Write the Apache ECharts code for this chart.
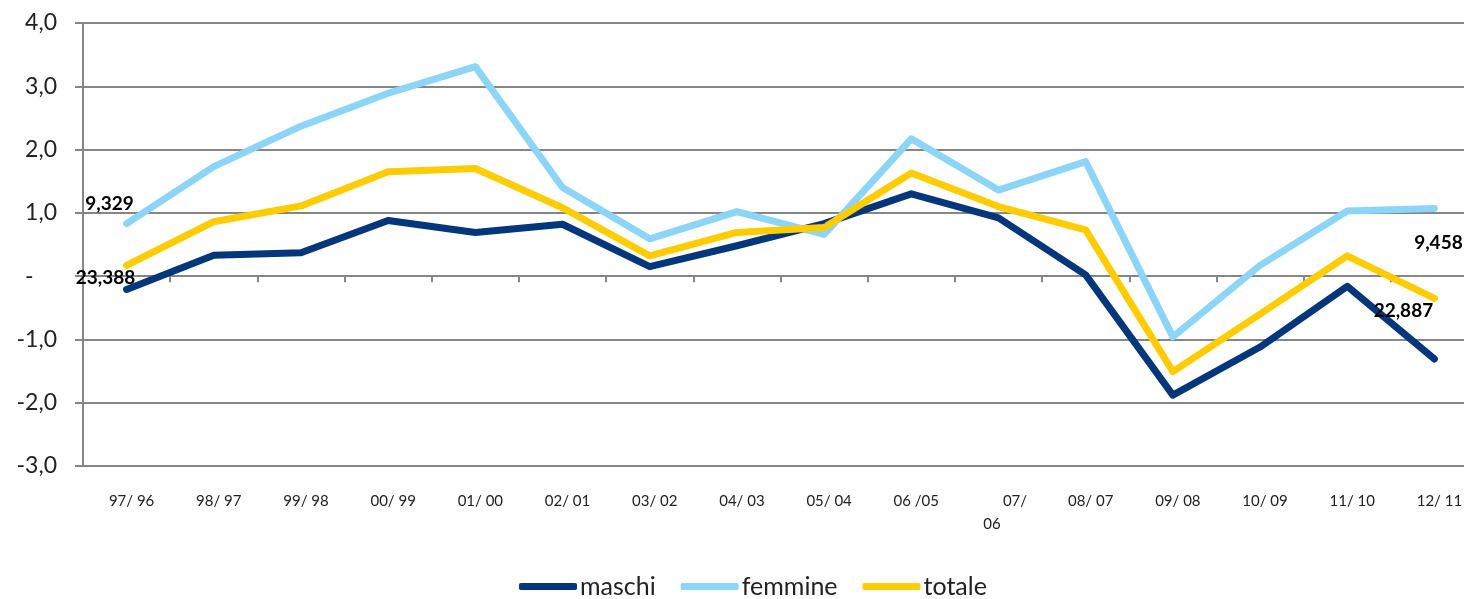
<!DOCTYPE html>
<html>
<head>
<meta charset="utf-8">
<script src="https://cdn.jsdelivr.net/npm/echarts@6/dist/echarts.min.js"></script>
<style>html,body{margin:0;padding:0;background:#fff}#c{width:1464px;height:599px}</style>
</head>
<body>
<div id="c"></div>
<script>
const categories = ['97/ 96','98/ 97','99/ 98','00/ 99','01/ 00','02/ 01','03/ 02','04/ 03','05/ 04','06 /05','      07/\n06      ','08/ 07','09/ 08','10/ 09','11/ 10','12/ 11'];
const maschi   = [-0.21, 0.33, 0.37, 0.88, 0.69, 0.82, 0.15, 0.48, 0.83, 1.30, 0.92, 0.02, -1.88, -1.12, -0.16, -1.31];
const femmine  = [0.83, 1.73, 2.37, 2.89, 3.31, 1.40, 0.59, 1.02, 0.66, 2.17, 1.36, 1.81, -0.96, 0.17, 1.03, 1.07];
const totale   = [0.17, 0.86, 1.11, 1.65, 1.70, 1.08, 0.32, 0.69, 0.77, 1.63, 1.10, 0.73, -1.51, -0.60, 0.32, -0.35];
const yTicks = { min: -3, max: 4, interval: 1 };
// absolute-number annotations shown on individual points
const notes = [
  { series: 'femmine', index: 0,  text: '9,329' },
  { series: 'maschi',  index: 0,  text: '23,388' },
  { series: 'femmine', index: 15, text: '9,458' },
  { series: 'totale',  index: 15, text: '22,887' }
];
const noteStyle = {
  'femmine-0':  { position: 'top', offset: [-17, -5] },
  'maschi-0':   { position: 'top', offset: [-21, 3] },
  'femmine-15': { position: 'bottom', offset: [4, 19] },
  'totale-15':  { position: 'bottom', offset: [-31, -2] }
};

function buildData(name, values) {
  return values.map((v, i) => {
    const n = notes.find(o => o.series === name && o.index === i);
    if (!n) return v;
    const st = noteStyle[name + '-' + i];
    return {
      value: v,
      label: {
        show: true, formatter: n.text, position: st.position, offset: st.offset,
        color: '#000', fontFamily: 'Lato', fontWeight: 'bold', fontSize: 19
      }
    };
  });
}

const colors = { maschi: '#03367A', femmine: '#8DD5F6', totale: '#FFCC00' };
function mkSeries(name, values) {
  return {
    name, type: 'line', data: buildData(name, values),
    xAxisIndex: 0, yAxisIndex: 0,
    symbol: 'circle', symbolSize: 1, showSymbol: true,
    lineStyle: { width: 7, color: colors[name], cap: 'round', join: 'round' },
    itemStyle: { color: colors[name] },
    label: { show: false },
    emphasis: { disabled: true },
    animation: false, z: 3
  };
}

const chart = echarts.init(document.getElementById('c'), null, { renderer: 'canvas' });
chart.setOption({
  animation: false,
  backgroundColor: '#fff',
  textStyle: { fontFamily: 'Lato' },
  grid: { left: 83, top: 23, bottom: 133, width: 1395, containLabel: false, outerBoundsMode: 'none' },
  legend: {
    top: 569, left: 514,
    itemWidth: 58, itemHeight: 7, itemGap: 25,
    icon: 'roundRect',
    textStyle: { fontFamily: 'Lato', fontSize: 25, color: '#222', padding: [0, 0, 0, -2] },
    data: ['maschi', 'femmine', 'totale']
  },
  xAxis: [
    {
      type: 'category', data: categories, position: 'bottom', boundaryGap: true,
      axisLine: { show: false, onZero: false }, axisTick: { show: false },
      axisLabel: { fontFamily: 'Lato', fontSize: 15, color: '#222', margin: 24, lineHeight: 23, interval: 0, padding: [0, 0, 0, 10] },
      splitLine: { show: false }
    },
    {
      type: 'category', data: categories, position: 'top', boundaryGap: true,
      axisLine: { show: true, onZero: true, lineStyle: { color: '#868686', width: 2 } },
      axisTick: { show: true, inside: true, length: 6, lineStyle: { color: '#868686', width: 2 } },
      axisLabel: { show: false }, splitLine: { show: false }
    }
  ],
  yAxis: {
    type: 'value', min: yTicks.min, max: yTicks.max, interval: yTicks.interval,
    axisLine: { show: true, lineStyle: { color: '#868686', width: 2 } },
    axisTick: { show: true, length: 8, lineStyle: { color: '#868686', width: 2 } },
    axisLabel: {
      fontFamily: 'Lato', fontSize: 23, color: '#222', margin: 26,
      formatter: v => v === 0 ? '-    ' : v.toFixed(1).replace('.', ',')
    },
    splitLine: { show: true, lineStyle: { color: '#868686', width: 2 } }
  },
  series: [mkSeries('maschi', maschi), mkSeries('femmine', femmine), mkSeries('totale', totale)]
});
</script>
</body>
</html>
